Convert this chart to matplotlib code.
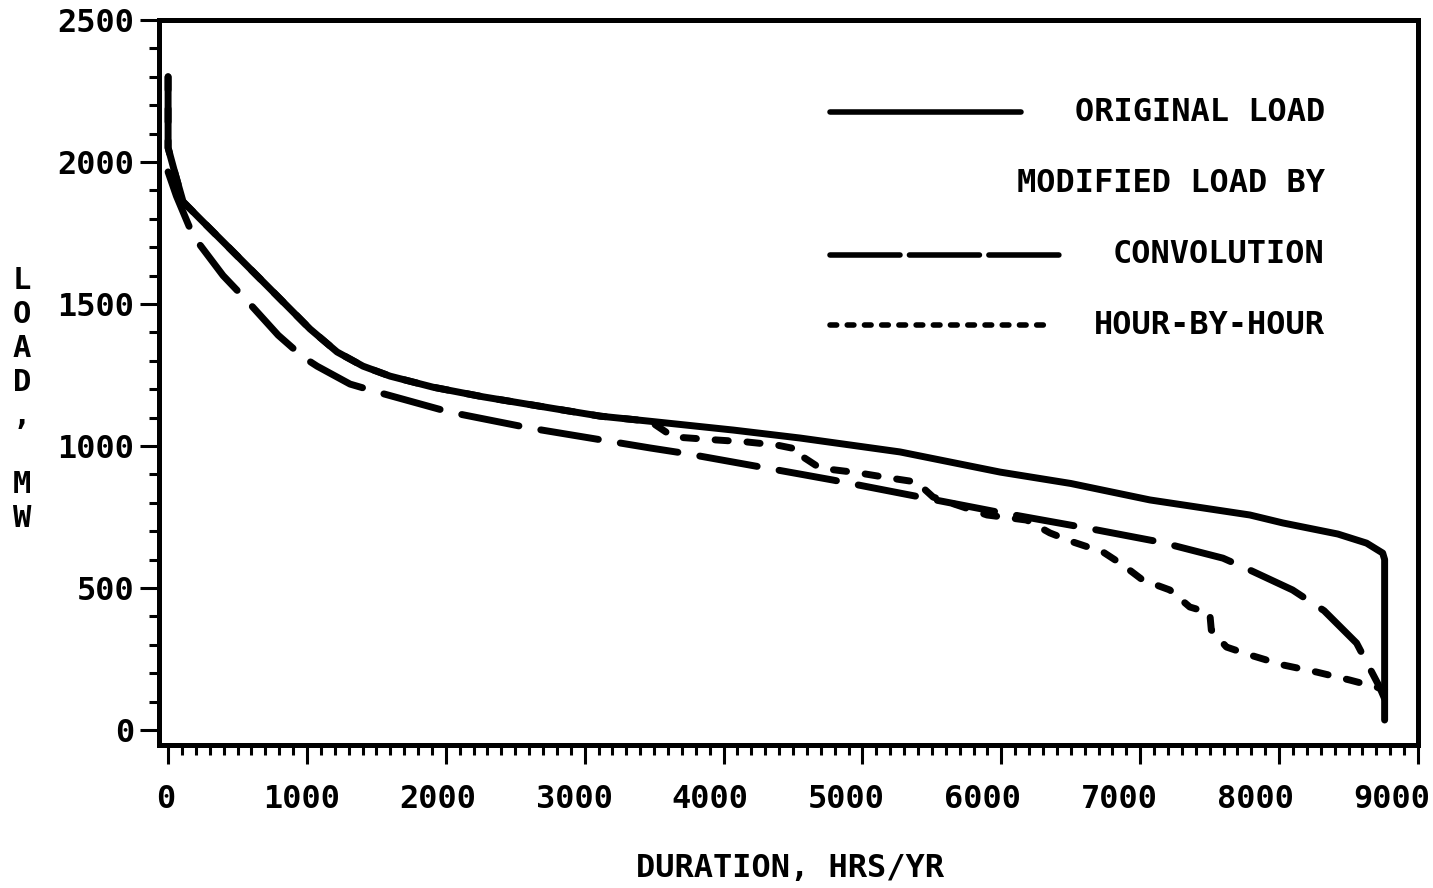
import numpy as np
import matplotlib
matplotlib.use("Agg")
import matplotlib.pyplot as plt
import matplotlib.transforms as mtransforms
from matplotlib.ticker import MultipleLocator

# load duration curves
orig_x = [0, 0, 50, 108, 230, 425, 713, 1022, 1217, 1404, 1598, 1908, 2269,
          2775, 3112, 3471, 4071, 4551, 5271, 5992, 6500, 7070, 7790, 8027,
          8423, 8630, 8746, 8760, 8760]
orig_y = [2300, 2050, 1960, 1860, 1800, 1705, 1564, 1412, 1331, 1281, 1246,
          1207, 1173, 1132, 1105, 1087, 1056, 1028, 979, 908, 868, 810, 757,
          729, 690, 658, 623, 600, 35]

conv_x = [0, 60, 180, 396, 569, 793, 972, 1073, 1310, 1505, 2030, 2606, 3471,
          3709, 4551, 4788, 5271, 5946, 6616, 7141, 7596, 7790, 8097, 8324,
          8558, 8724, 8760]
conv_y = [1965, 1880, 1740, 1600, 1511, 1390, 1313, 1281, 1218, 1190, 1119,
          1063, 993, 975, 901, 880, 834, 770, 711, 662, 605, 563, 493, 420,
          306, 151, 110]

hbh_x = [0, 0, 50, 108, 230, 425, 713, 1022, 1217, 1404, 1598, 1908, 2269,
         2775, 3112, 3471, 3637, 3954, 4170, 4386, 4558, 4573, 4695, 4963,
         5200, 5390, 5509, 5897, 6184, 6349, 6515, 6731, 6875, 7018, 7213,
         7357, 7501, 7512, 7621, 7790, 8027, 8270, 8508, 8702, 8760]
hbh_y = [2300, 2050, 1960, 1860, 1800, 1705, 1564, 1412, 1331, 1281, 1246,
         1207, 1173, 1132, 1105, 1087, 1032, 1021, 1014, 1003, 986, 961, 922,
         906, 887, 873, 820, 757, 739, 694, 662, 627, 581, 528, 493, 433, 412,
         352, 292, 264, 229, 204, 176, 151, 140]

x_ticks = [0, 1000, 2000, 3000, 4000, 5000, 6000, 7000, 8000, 9000]
y_ticks = [0, 500, 1000, 1500, 2000, 2500]

plt.rcParams['font.family'] = ['DejaVu Sans Mono']
plt.rcParams['font.weight'] = 'bold'

fig = plt.figure(figsize=(14.33, 8.88), dpi=100)
ax = fig.add_axes([0.111, 0.161, 0.8785, 0.8165])

lw = 5
ax.plot(orig_x, orig_y, color='black', lw=lw, solid_capstyle='round',
        solid_joinstyle='round')
ax.plot(conv_x, conv_y, color='black', lw=lw, dashes=(8.4, 3.2),
        dash_capstyle='round')
ax.plot(hbh_x, hbh_y, color='black', lw=lw, dashes=(1.9, 2.7),
        dash_capstyle='round')

ax.set_xlim(-65, 9000)
ax.set_ylim(-53, 2500)
ax.set_xticks(x_ticks)
ax.set_xticklabels([])
ax.set_yticks(y_ticks)
ax.xaxis.set_minor_locator(MultipleLocator(100))
ax.yaxis.set_minor_locator(MultipleLocator(100))
ax.tick_params(which='major', direction='out', length=14, width=2.2,
               labelsize=23, color='black')
ax.tick_params(which='minor', direction='out', length=7, width=2.2)
ax.tick_params(axis='y', which='major', pad=4)
for s in ax.spines.values():
    s.set_linewidth(3.6)

# x tick labels: the old plotter drew them a little left of the ticks
blend = mtransforms.blended_transform_factory(ax.transData, ax.transAxes)
for i, t in enumerate(x_ticks):
    trans = mtransforms.offset_copy(blend, fig=fig, x=-2 - 1.9 * i, y=-39.5,
                                    units='points')
    ax.text(t, 0, str(t), transform=trans, ha='center', va='center',
            fontsize=23)

# legend drawn by hand (handles left, text right-aligned)
tr = ax.transAxes
ax.plot([0.533, 0.685], [0.873, 0.873], transform=tr, color='black', lw=4,
        solid_capstyle='round')
ax.plot([0.533, 0.717], [0.676, 0.676], transform=tr, color='black', lw=4,
        dashes=(12.6, 1.7), dash_capstyle='round')
ax.plot([0.533, 0.704], [0.579, 0.579], transform=tr, color='black', lw=4,
        dashes=(1.2, 1.9), dash_capstyle='round')
ax.text(0.926, 0.873, 'ORIGINAL LOAD', transform=tr, ha='right', va='center', fontsize=23)
ax.text(0.926, 0.775, 'MODIFIED LOAD BY', transform=tr, ha='right', va='center', fontsize=23)
ax.text(0.926, 0.676, 'CONVOLUTION', transform=tr, ha='right', va='center', fontsize=23)
ax.text(0.926, 0.579, 'HOUR-BY-HOUR', transform=tr, ha='right', va='center', fontsize=23)

fig.text(0.551, 0.0225, 'DURATION, HRS/YR', ha='center', va='center',
         fontsize=23)
fig.text(0.0154, 0.55, 'L\nO\nA\nD\n,\n \nM\nW', ha='center', va='center',
         fontsize=22, linespacing=1.22)

fig.savefig('out.png', dpi=100)
